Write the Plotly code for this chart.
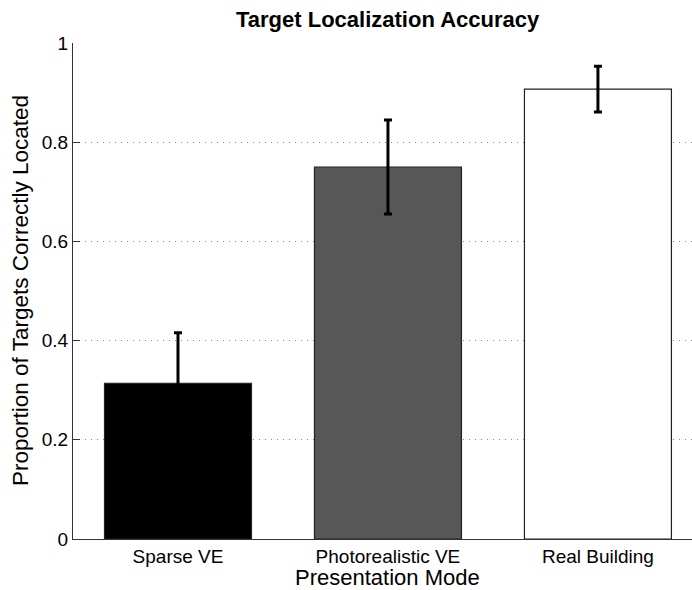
import plotly.graph_objects as go

# Target localization results by presentation mode
modes = ["Sparse VE", "Photorealistic VE", "Real Building"]
proportion_correct = [0.314, 0.750, 0.907]
error_half_width = [0.102, 0.095, 0.046]
bar_colors = ["#000000", "#575757", "#ffffff"]

y_ticks = [0, 0.2, 0.4, 0.6, 0.8, 1]
y_tick_text = ["0", "0.2", "0.4", "0.6", "0.8", "1"]

FONT = "Liberation Sans, Arial, Helvetica, sans-serif"

fig = go.Figure()
fig.add_trace(go.Bar(
    x=[1, 2, 3],
    y=proportion_correct,
    width=0.7,
    marker=dict(color=bar_colors, line=dict(color="#222222", width=1.2)),
    error_y=dict(type="data", array=error_half_width, visible=True,
                 color="#000000", thickness=3, width=4),
    showlegend=False,
))

fig.update_layout(
    width=692, height=590,
    margin=dict(l=73, r=0, t=43, b=51),
    paper_bgcolor="white", plot_bgcolor="white",
    font=dict(family=FONT, color="#000000", size=18),
    xaxis=dict(
        range=[0.5, 3.448],
        tickmode="array", tickvals=[1, 2, 3], ticktext=modes,
        ticks="", showgrid=False, zeroline=False,
        showline=True, linecolor="#333333", linewidth=1,
        tickfont=dict(size=19, family=FONT),
    ),
    yaxis=dict(
        range=[0, 1],
        tickmode="array", tickvals=y_ticks, ticktext=y_tick_text,
        ticks="inside", ticklen=7, tickcolor="#333333", tickwidth=1,
        showline=True, linecolor="#333333", linewidth=1,
        showgrid=True, gridcolor="#8a8a8a", griddash="1px,5px", gridwidth=1,
        zeroline=False,
        tickfont=dict(size=19, family=FONT),
    ),
    annotations=[
        dict(text="<b>Target Localization Accuracy</b>", xref="x", yref="paper",
             x=2, y=1.0464, xanchor="center", yanchor="middle",
             showarrow=False, font=dict(size=22, family=FONT)),
        dict(text="Presentation Mode", xref="x", yref="paper",
             x=2, y=-0.0776, xanchor="center", yanchor="middle",
             showarrow=False, font=dict(size=22, family=FONT)),
        dict(text="Proportion of Targets Correctly Located", xref="paper", yref="paper",
             x=-0.0856, y=0.5, xanchor="center", yanchor="middle", textangle=-90,
             showarrow=False, font=dict(size=22.5, family=FONT)),
    ],
)

fig.write_html("out.html")
